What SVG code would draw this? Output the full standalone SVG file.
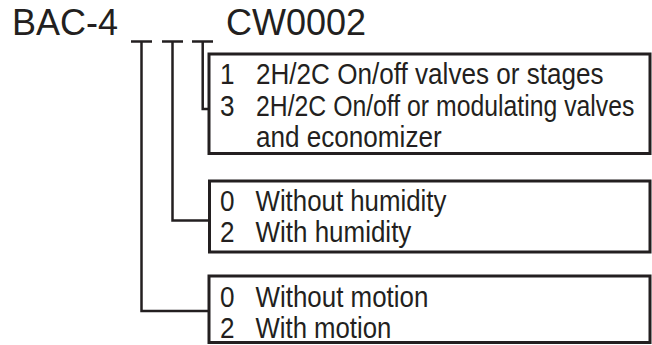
<svg xmlns="http://www.w3.org/2000/svg" width="652" height="345" viewBox="0 0 652 345">
<style>
.t{font-family:"Liberation Sans",Arial,sans-serif;fill:#231f20}
.big{font-size:36px}
.s{font-size:29px}
.box{fill:none;stroke:#231f20;stroke-width:3}
.ln{fill:none;stroke:#231f20;stroke-width:2.5}
</style>
<rect width="652" height="345" fill="#fff"/>
<g id="title">
<text class="t big" x="12" y="35">BAC-4</text>
<text class="t big" x="226" y="35">CW0002</text>
</g>
<g id="connectors">
<path class="ln" d="M131 41.5H152M141.5 41.5V311H209"/>
<path class="ln" d="M162 41.5H183M172.5 41.5V220.5H209"/>
<path class="ln" d="M192 41.5H213M202.7 41.5V109H209"/>
</g>
<g id="box1">
<rect class="box" x="209" y="54" width="441" height="99.5"/>
<text class="t s" transform="translate(220,84) scale(0.9 1)">1</text>
<text class="t s" transform="translate(256,84) scale(0.9 1)">2H/2C On/off valves or stages</text>
<text class="t s" transform="translate(220,115.5) scale(0.9 1)">3</text>
<text class="t s" transform="translate(256,115.5) scale(0.855 1)">2H/2C On/off or modulating valves</text>
<text class="t s" transform="translate(256,147) scale(0.9 1)">and economizer</text>
</g>
<g id="box2">
<rect class="box" x="209.5" y="181" width="440.5" height="71"/>
<text class="t s" transform="translate(220,210.5) scale(0.9 1)">0</text>
<text class="t s" transform="translate(255.5,210.5) scale(0.891 1)">Without humidity</text>
<text class="t s" transform="translate(220,241.7) scale(0.9 1)">2</text>
<text class="t s" transform="translate(255.5,241.7) scale(0.896 1)">With humidity</text>
</g>
<g id="box3">
<rect class="box" x="209" y="276" width="441" height="66.5"/>
<text class="t s" transform="translate(220,306.7) scale(0.9 1)">0</text>
<text class="t s" transform="translate(255.5,306.7) scale(0.894 1)">Without motion</text>
<text class="t s" transform="translate(220,338) scale(0.9 1)">2</text>
<text class="t s" transform="translate(255.5,338) scale(0.888 1)">With motion</text>
</g>
</svg>
